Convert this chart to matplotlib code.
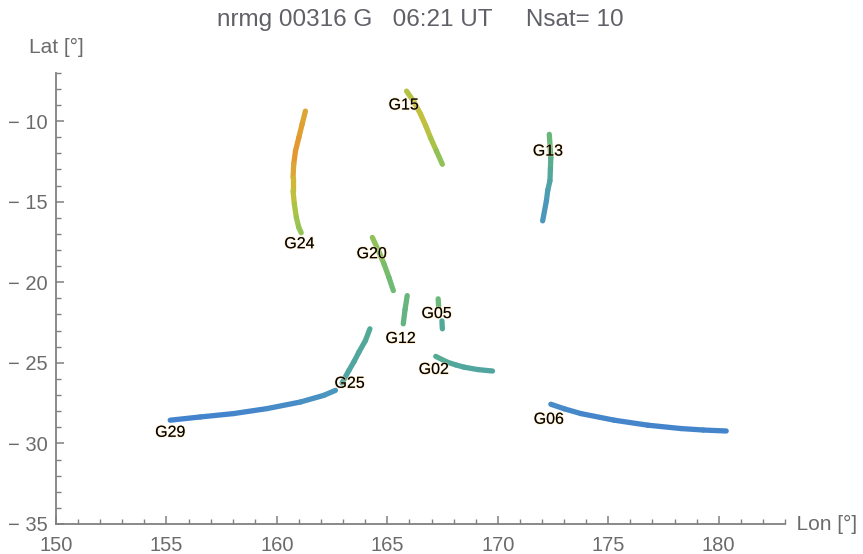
import matplotlib
matplotlib.use("Agg")
import matplotlib.pyplot as plt
import numpy as np
from matplotlib.collections import LineCollection
from matplotlib.colors import LinearSegmentedColormap
from matplotlib.ticker import MultipleLocator
import matplotlib.patheffects as pe

plt.rcParams['font.family'] = ['Liberation Sans', 'DejaVu Sans']

TITLE = "nrmg 00316 G   06:21 UT     Nsat= 10"

# ionospheric pierce point tracks: lon [deg], lat [deg], colour value
G24_lon = [161.29, 161.14, 160.99, 160.84, 160.76, 160.73, 160.73, 160.79, 160.88, 160.99, 161.10]
G24_lat = [-9.38, -10.20, -11.03, -11.86, -12.68, -13.51, -14.33, -15.15, -15.98, -16.60, -16.93]
G24_val = [0.90, 0.93, 0.96, 0.98, 0.95, 0.88, 0.82, 0.76, 0.71, 0.68, 0.66]

G15_lon = [165.87, 166.20, 166.50, 166.74, 166.96, 167.22, 167.49]
G15_lat = [-8.14, -8.80, -9.56, -10.30, -11.05, -11.85, -12.68]
G15_val = [0.74, 0.78, 0.80, 0.79, 0.76, 0.70, 0.62]

G13_lon = [172.33, 172.40, 172.38, 172.36, 172.26, 172.20, 172.03]
G13_lat = [-10.82, -12.27, -13.00, -13.70, -14.30, -14.95, -16.19]
G13_val = [0.58, 0.46, 0.42, 0.38, 0.32, 0.28, 0.20]

G20_lon = [164.32, 164.60, 164.85, 165.07, 165.27]
G20_lat = [-17.22, -18.05, -18.87, -19.70, -20.52]
G20_val = [0.66, 0.63, 0.60, 0.56, 0.53]

G12_lon = [165.90, 165.80, 165.72]
G12_lat = [-20.83, -21.70, -22.58]
G12_val = [0.52, 0.50, 0.48]

G05_lon = [167.30, 167.32, np.nan, 167.47, 167.49]
G05_lat = [-21.03, -21.50, np.nan, -22.40, -22.89]
G05_val = [0.54, 0.52, np.nan, 0.42, 0.40]

G02_lon = [167.19, 167.71, 168.10, 168.47, 169.10, 169.76]
G02_lat = [-24.60, -24.96, -25.13, -25.27, -25.42, -25.51]
G02_val = [0.44, 0.40, 0.39, 0.38, 0.37, 0.37]

G25_lon = [162.95, 163.26, 163.50, 163.71, 164.01, 164.21]
G25_lat = [-26.25, -25.47, -24.90, -24.34, -23.61, -22.89]
G25_val = [0.34, 0.36, 0.37, 0.38, 0.40, 0.41]

G06_lon = [172.40, 173.00, 173.76, 175.27, 176.79, 178.30, 179.30, 180.34]
G06_lat = [-27.57, -27.85, -28.15, -28.56, -28.87, -29.08, -29.17, -29.23]
G06_val = [0.12, 0.10, 0.08, 0.06, 0.05, 0.05, 0.05, 0.05]

G29_lon = [155.17, 156.53, 158.04, 159.56, 161.07, 162.12, 162.65]
G29_lat = [-28.56, -28.36, -28.15, -27.84, -27.43, -27.02, -26.71]
G29_val = [0.02, 0.03, 0.05, 0.08, 0.14, 0.20, 0.24]

tracks = {
    "G24": (G24_lon, G24_lat, G24_val),
    "G15": (G15_lon, G15_lat, G15_val),
    "G13": (G13_lon, G13_lat, G13_val),
    "G20": (G20_lon, G20_lat, G20_val),
    "G12": (G12_lon, G12_lat, G12_val),
    "G05": (G05_lon, G05_lat, G05_val),
    "G02": (G02_lon, G02_lat, G02_val),
    "G25": (G25_lon, G25_lat, G25_val),
    "G06": (G06_lon, G06_lat, G06_val),
    "G29": (G29_lon, G29_lat, G29_val),
}

# label anchor (lon, lat) for each satellite
label_pos = {
    "G15": (165.74, -9.00),
    "G13": (172.27, -11.86),
    "G24": (161.02, -17.61),
    "G20": (164.29, -18.23),
    "G05": (167.23, -21.94),
    "G12": (165.60, -23.49),
    "G02": (167.10, -25.41),
    "G25": (163.29, -26.27),
    "G06": (172.31, -28.50),
    "G29": (155.17, -29.31),
}

cmap = LinearSegmentedColormap.from_list("track", [
    (0.00, (0.26, 0.50, 0.81)),
    (0.25, (0.30, 0.60, 0.74)),
    (0.40, (0.32, 0.66, 0.60)),
    (0.55, (0.44, 0.73, 0.45)),
    (0.70, (0.62, 0.77, 0.30)),
    (0.82, (0.80, 0.75, 0.22)),
    (1.00, (0.91, 0.57, 0.18)),
])

fig = plt.figure(figsize=(8.63, 5.54), dpi=100)
ax = fig.add_axes([0.0649, 0.0542, 0.8447, 0.8145])

for name, (lon, lat, val) in tracks.items():
    lon = np.asarray(lon, float)
    lat = np.asarray(lat, float)
    val = np.asarray(val, float)
    segs, cols = [], []
    for i in range(len(lon) - 1):
        if np.isnan(lon[i]) or np.isnan(lon[i + 1]):
            continue
        segs.append([(lon[i], lat[i]), (lon[i + 1], lat[i + 1])])
        cols.append(cmap(0.5 * (val[i] + val[i + 1])))
    lc = LineCollection(segs, colors=cols, linewidths=3.8, capstyle="round",
                        joinstyle="round", zorder=2)
    ax.add_collection(lc)

for name, (x, y) in label_pos.items():
    ax.text(x, y, name, fontsize=11.5, color="black", ha="center", va="center",
            zorder=3,
            path_effects=[pe.withStroke(linewidth=1.2, foreground=(1, 0.85, 0.6, 0.5))])

ax.set_xlim(150, 183)
ax.set_ylim(-35, -7)

for s in ["top", "right"]:
    ax.spines[s].set_visible(False)
axcol = "#808080"
for s in ["left", "bottom"]:
    ax.spines[s].set_color(axcol)
    ax.spines[s].set_linewidth(1.3)

ax.xaxis.set_major_locator(MultipleLocator(5))
ax.xaxis.set_minor_locator(MultipleLocator(1))
ax.yaxis.set_major_locator(MultipleLocator(5))
ax.yaxis.set_minor_locator(MultipleLocator(1))
ax.tick_params(which="major", direction="in", length=6, width=1.1, color=axcol,
               labelsize=14.5, labelcolor="#6b6b6b", pad=6)
ax.tick_params(axis="x", which="major", pad=9)
ax.tick_params(which="minor", direction="in", length=3.5, width=1.0, color=axcol)
ax.set_yticks(np.arange(-35, -9, 5))
ax.set_yticklabels(["\u2212 " + str(abs(v)) for v in range(-35, -9, 5)])

ax.text(1.0, 0.0, "  Lon [°]", transform=ax.transAxes, ha="left", va="center",
        fontsize=15, color="#6b6b6b")
ax.text(0.0, 1.035, "Lat [°]", transform=ax.transAxes, ha="center", va="bottom",
        fontsize=15, color="#6b6b6b")
ax.text(0.5, 0.963, TITLE, transform=fig.transFigure, ha="center", va="center",
        fontsize=17.5, color="#606068")
# centre the title over the plot area rather than the whole figure
ax.texts[-1].set_x(ax.get_position().x0 + 0.5 * ax.get_position().width)

fig.savefig("out.png", dpi=100)
